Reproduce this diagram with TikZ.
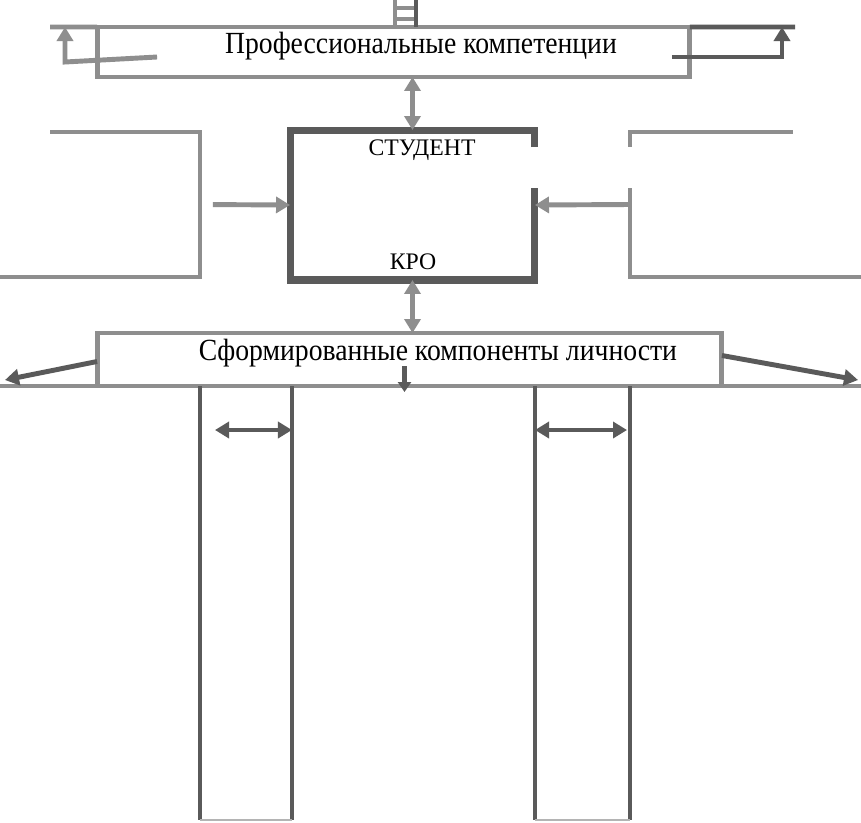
\documentclass[tikz,border=0pt]{standalone}
\usepackage{fontspec}
\setmainfont{Liberation Serif}
\usetikzlibrary{positioning,arrows.meta,calc}
\definecolor{LineGray}{HTML}{8E8E8E}
\definecolor{LineDark}{HTML}{5A5A5A}
\definecolor{LineLight}{HTML}{B4B4B4}

\begin{document}
\begin{tikzpicture}[x=0.02cm, y=-0.02cm,
      area/.style={rectangle, inner sep=0pt, outer sep=0pt},
      gbox/.style={area, draw=LineGray, line width=2.8pt},
      title/.style={font=\fontsize{17.5}{20}\selectfont, inner sep=0pt, xscale=0.9},
      small/.style={font=\fontsize{13.5}{16}\selectfont, inner sep=0pt},
      gline/.style={draw=LineGray, line width=2.8pt},
      dline/.style={draw=LineDark, line width=2.8pt},
      sline/.style={draw=LineDark, line width=4pt, line join=miter},
      garrow/.style={gline, -{Triangle[length=2.8mm,width=3.2mm]}},
      darrow/.style={dline, -{Triangle[length=2.8mm,width=3.2mm]}},
      gdarrow/.style={gline, {Triangle[length=2.8mm,width=3.2mm]}-{Triangle[length=2.8mm,width=3.2mm]}},
      ddarrow/.style={dline, {Triangle[length=2.8mm,width=3.2mm]}-{Triangle[length=2.8mm,width=3.2mm]}},
    ]
      \fill[white] (0,0) rectangle (861,822);
      \useasboundingbox (0,0) rectangle (861,822);

      \node[gbox, minimum width=11.86cm, minimum height=1cm] (prof) at (393.5,52) {};
      \node[title] (proftext) at (421,46) {Профессиональные компетенции};
      \node[area, minimum width=4.9cm, minimum height=3cm] (student) at (412.5,205) {};
      \node[small] (studtext) at (422,150) {СТУДЕНТ};
      \node[small] (kro) at (413,262) {КРО};
      \node[area, minimum width=4cm, minimum height=2.9cm] (lb) at (100,204.5) {};
      \node[area, minimum width=4.62cm, minimum height=2.9cm] (rb) at (745.5,204.5) {};
      \node[gbox, minimum width=12.5cm, minimum height=1.06cm] (comp) at (409.5,359.5) {};
      \node[title] (comptext) at (438,353) {Сформированные компоненты личности};
      \node[area, minimum width=1.84cm, minimum height=8.68cm] (c1) at (246,603) {};
      \node[area, minimum width=1.9cm, minimum height=8.68cm] (c2) at (582.5,603) {};

      \draw[gline, line width=1.8pt] (395,0) -- (395,27) (395,8) -- (416,8) (395,19) -- (416,19);
      \draw[dline, line width=1.8pt] (416,0) -- (416,27);
      \draw[gline] (50,27) -- (prof.north west);
      \draw[dline] (prof.north east) -- (795,27);

      \coordinate (pl) at (65,62);
      \coordinate (pr) at (782,57);
      \draw[garrow] ($(prof.west)+(60,5)$) -- (pl) -- (pl |- prof.north);
      \draw[darrow] ($(prof.east)+(-18,5)$) -- (pr) -- (pr |- prof.north);

      \draw[sline] ($(student.north east)+(0,17)$) -- (student.north east) -- (student.north west)
            -- (student.south west) -- (student.south east) -- ($(student.south east)+(0,-92)$);
      \draw[gline] ($(lb.north west)+(50,0)$) -- (lb.north east) -- (lb.south east) -- (lb.south west);
      \draw[gline] ($(rb.north east)+(-68,0)$) -- (rb.north west) -- ($(rb.north west)+(0,15)$);
      \draw[gline] ($(rb.north west)+(0,56)$) -- (rb.south west) -- (rb.south east);

      \draw[garrow, shorten <=2.6mm] (lb.east) -- (student.west);
      \draw[garrow] (rb.west) -- (student.east);
      \draw[gdarrow] (student.north |- prof.south) -- (student.north);
      \draw[gdarrow] (student.south) -- (student.south |- comp.north);

      \draw[gline] (comp.south -| 0,0) -- (comp.south -| 861,0);
      \coordinate (cl) at (5,380);
      \coordinate (cr) at (858,380);
      \draw[darrow] ($(comp.west)+(0,2)$) -- (cl);
      \draw[darrow] ($(comp.east)+(0,-4)$) -- (cr);
      \draw[darrow, -{Triangle[length=2mm,width=2.6mm]}] ($(comp.south)+(-5,-20)$) -- ($(comp.south)+(-5,6)$);

      \draw[dline] (c1.north west) -- (c1.south west) (c1.north east) -- (c1.south east);
      \draw[dline] (c2.north west) -- (c2.south west) (c2.north east) -- (c2.south east);
      \draw[draw=LineLight, line width=1pt] (c1.south west) -- (c1.south east) (c2.south west) -- (c2.south east);
      \coordinate (a1) at (215,430);
      \coordinate (a2) at (627,430);
      \draw[ddarrow] (a1) -- (a1 -| c1.east);
      \draw[ddarrow] (a2 -| c2.west) -- (a2);
    \end{tikzpicture}
\end{document}
